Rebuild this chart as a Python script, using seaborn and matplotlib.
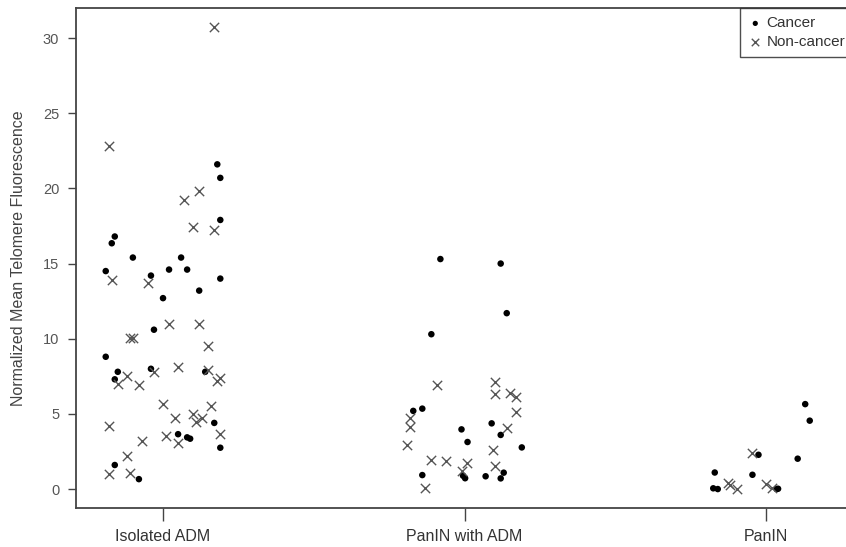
import matplotlib
matplotlib.use("Agg")
import matplotlib.pyplot as plt
import seaborn as sns
import pandas as pd

categories = ["Isolated ADM", "PanIN with ADM", "PanIN"]
legend_labels = ["Cancer", "Non-cancer"]
y_ticks = [0, 5, 10, 15, 20, 25, 30]
y_label = "Normalized Mean Telomere Fluorescence"

# Isolated ADM
iso_cancer = [21.6, 20.7, 17.9, 16.8, 16.35, 15.4, 15.4, 14.5, 14.6, 14.6, 14.2, 14.0, 13.2, 12.7,
              10.6, 8.8, 7.8, 7.3, 8.0, 7.8, 4.4, 3.65, 3.44, 3.35, 2.75, 1.6, 0.66]
iso_cancer_jit = [0.18, 0.19, 0.19, -0.16, -0.17, -0.10, 0.06, -0.19, 0.02, 0.08, -0.04, 0.19, 0.12, 0.00,
                  -0.03, -0.19, -0.15, -0.16, -0.04, 0.14, 0.17, 0.05, 0.08, 0.09, 0.19, -0.16, -0.08]
iso_non = [30.75, 22.8, 19.8, 19.2, 17.4, 17.2, 13.9, 13.7, 11.0, 11.0, 10.05, 10.05, 9.5, 7.5, 7.8, 8.1,
           7.9, 7.2, 7.4, 7.0, 6.9, 5.65, 5.5, 4.2, 4.7, 5.0, 4.45, 4.75, 3.65, 3.55, 3.05, 3.2, 2.2, 1.0, 1.05]
iso_non_jit = [0.17, -0.18, 0.12, 0.07, 0.10, 0.17, -0.17, -0.05, 0.02, 0.12, -0.11, -0.10, 0.15, -0.12,
               -0.03, 0.05, 0.15, 0.18, 0.19, -0.15, -0.08, 0.00, 0.16, -0.18, 0.04, 0.10, 0.11, 0.13,
               0.19, 0.01, 0.05, -0.07, -0.12, -0.18, -0.11]

# PanIN with ADM
mid_cancer = [15.3, 15.0, 11.7, 10.3, 5.2, 5.35, 3.97, 3.13, 4.37, 3.6, 2.77, 0.89, 0.72, 0.85, 1.09, 0.71, 0.93]
mid_cancer_jit = [-0.08, 0.12, 0.14, -0.11, -0.17, -0.14, -0.01, 0.01, 0.09, 0.12, 0.19, -0.005, 0.002,
                  0.07, 0.13, 0.12, -0.14]
mid_non = [6.9, 7.1, 6.3, 6.4, 6.1, 5.1, 4.7, 4.1, 2.9, 4.04, 1.93, 1.88, 1.73, 2.6, 1.53, 1.2, 0.09]
mid_non_jit = [-0.09, 0.10, 0.10, 0.15, 0.17, 0.17, -0.18, -0.18, -0.19, 0.14, -0.11, -0.06, 0.007,
               0.095, 0.10, -0.007, -0.13]

# PanIN
pan_cancer = [5.65, 4.55, 2.28, 2.02, 0.95, 1.1, 0.05, 0.0, 0.0, 0.02]
pan_cancer_jit = [0.13, 0.145, -0.025, 0.105, -0.045, -0.17, -0.175, -0.16, 0.035, 0.04]
pan_non = [2.42, 0.38, 0.27, 0.02, 0.35, 0.05]
pan_non_jit = [-0.045, -0.125, -0.12, -0.095, 0.0, 0.02]

rows = []
for i, (vc, jc, vn, jn) in enumerate([
        (iso_cancer, iso_cancer_jit, iso_non, iso_non_jit),
        (mid_cancer, mid_cancer_jit, mid_non, mid_non_jit),
        (pan_cancer, pan_cancer_jit, pan_non, pan_non_jit)]):
    for v, j in zip(vc, jc):
        rows.append({"pos": i + j, "value": v, "status": legend_labels[0]})
    for v, j in zip(vn, jn):
        rows.append({"pos": i + j, "value": v, "status": legend_labels[1]})
df = pd.DataFrame(rows)

sns.set_style("white")
plt.rcParams["font.family"] = ["Liberation Sans", "DejaVu Sans"]

fig = plt.figure(figsize=(8.46, 5.47), dpi=100)
ax = fig.add_axes([76 / 846, 39 / 547, 790 / 846, 500 / 547])

sns.scatterplot(data=df[df.status == "Cancer"], x="pos", y="value", marker="o",
                color="black", s=22, edgecolor="none", ax=ax, label="Cancer")
sns.scatterplot(data=df[df.status == "Non-cancer"], x="pos", y="value", marker="x",
                color="#555555", s=45, linewidth=1.0, ax=ax, label="Non-cancer")

ax.set_xlim(-0.2886, -0.2886 + 790 / 301.5)
ax.set_ylim(-1.26, 32.0)
ax.set_xticks(range(len(categories)))
ax.set_xticklabels(categories)
ax.set_yticks(y_ticks)
ax.set_xlabel("")
ax.set_ylabel(y_label, fontsize=11.5, color="#444444", labelpad=12)

for sp in ["left", "bottom", "top", "right"]:
    ax.spines[sp].set_color("#444444")
    ax.spines[sp].set_linewidth(1.3)
ax.tick_params(axis="y", direction="out", length=6, width=1, color="#444444",
               labelsize=10.5, labelcolor="#555555", left=True, pad=6)
ax.tick_params(axis="x", direction="out", length=9, width=1, color="#444444",
               labelsize=11.5, labelcolor="#333333", bottom=True, pad=6)

leg = ax.legend(loc="upper left", bbox_to_anchor=((740 - 76) / 790, 1.0), borderaxespad=0,
                frameon=True, fancybox=False, edgecolor="#222222", fontsize=11,
                handletextpad=0.3, borderpad=0.55, labelspacing=0.3, handlelength=0.9,
                markerscale=0.8)
leg.get_frame().set_linewidth(1.0)
for t in leg.get_texts():
    t.set_color("#333333")

fig.savefig("out.png", dpi=100)
